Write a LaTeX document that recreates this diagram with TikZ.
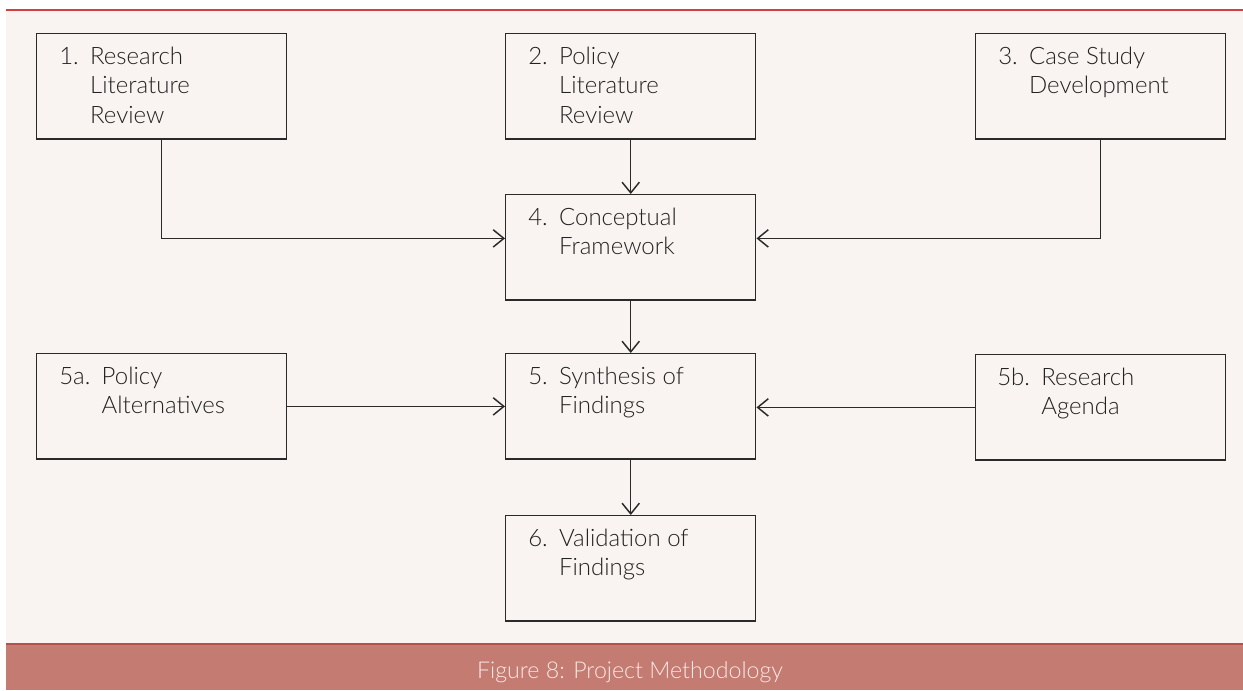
\documentclass[tikz,border=0pt]{standalone}
\usepackage{fontspec}
\setmainfont{Lato Light}
\usetikzlibrary{arrows.meta,calc}
\definecolor{bgc}{HTML}{F9F4F1}
\definecolor{capbar}{HTML}{C47B71}
\definecolor{capline}{HTML}{B5504C}
\definecolor{topline}{HTML}{D0403E}
\definecolor{captext}{HTML}{FAE8E5}
\definecolor{boxline}{HTML}{2A2A2A}
\definecolor{txtc}{HTML}{222222}
\tikzset{
  stepbox/.style={draw=boxline, line width=1.1pt, minimum width=187.5pt, minimum height=79pt, inner sep=0pt, anchor=north west},
  steptext/.style={anchor=base west, inner sep=0pt, text=txtc, font=\fontsize{18}{22.2}\selectfont},
  conn/.style={draw=boxline, line width=1.1pt, -{Straight Barb[length=8pt,width=13pt,line width=1.1pt]}},
}
\newcommand{\steplist}[2]{\begin{tabular}[t]{@{}l@{\hspace{8.5pt}}l@{}}#1 & #2\end{tabular}}
\begin{document}
\begin{tikzpicture}[x=0.75pt,y=-0.75pt]
\useasboundingbox (0,0) rectangle (1243,690);
\fill[white] (0,0) rectangle (1243,690);
\fill[bgc] (6,10) rectangle (1243,643);
\draw[topline, line width=1.1pt] (6,10) -- (1243,10);
\fill[capbar] (6,643) rectangle (1243,690);
\draw[capline, line width=1.4pt] (6,644) -- (1243,644);
\node[text=captext, font=\fontsize{17.4}{21}\selectfont, anchor=base] (cap) at (630,678) {Figure 8: Project Methodology};

\node[stepbox] (b1) at (36,33) {};
\node[stepbox] (b2) at (505,33) {};
\node[stepbox] (b3) at (975,33) {};
\node[stepbox] (b4) at (505,194) {};
\node[stepbox] (b5a) at (36,353) {};
\node[stepbox] (b5) at (505,353) {};
\node[stepbox] (b5b) at (975,354) {};
\node[stepbox] (b6) at (505,515) {};

\node[steptext] (t1) at (59,64) {\steplist{1.}{Research\\ & Literature\\ & Review}};
\node[steptext] (t2) at (528,64) {\steplist{2.}{Policy\\ & Literature\\ & Review}};
\node[steptext] (t3) at (998,64) {\steplist{3.}{Case Study\\ & Development}};
\node[steptext] (t4) at (528,225) {\steplist{4.}{Conceptual\\ & Framework}};
\node[steptext] (t5a) at (59,384) {\steplist{5a.}{Policy\\ & Alternatives}};
\node[steptext] (t5) at (528,384) {\steplist{5.}{Synthesis of\\ & Findings}};
\node[steptext] (t5b) at (997,385) {\steplist{5b.}{Research\\ & Agenda}};
\node[steptext] (t6) at (528,546) {\steplist{6.}{Validation of\\ & Findings}};

\coordinate (in4w) at ($(b4.west)+(0,-9)$);
\coordinate (in4e) at ($(b4.east)+(0,-9)$);
\draw[conn] (b1.south) |- (in4w);
\draw[conn] (b2.south) -- (b4.north);
\draw[conn] (b3.south) |- (in4e);
\draw[conn] (b4.south) -- (b5.north);
\draw[conn] (b5a.east) -- (b5.west);
\draw[conn] (b5b.west) -- (b5b.west -| b5.east);
\draw[conn] (b5.south) -- (b6.north);
\end{tikzpicture}
\end{document}
